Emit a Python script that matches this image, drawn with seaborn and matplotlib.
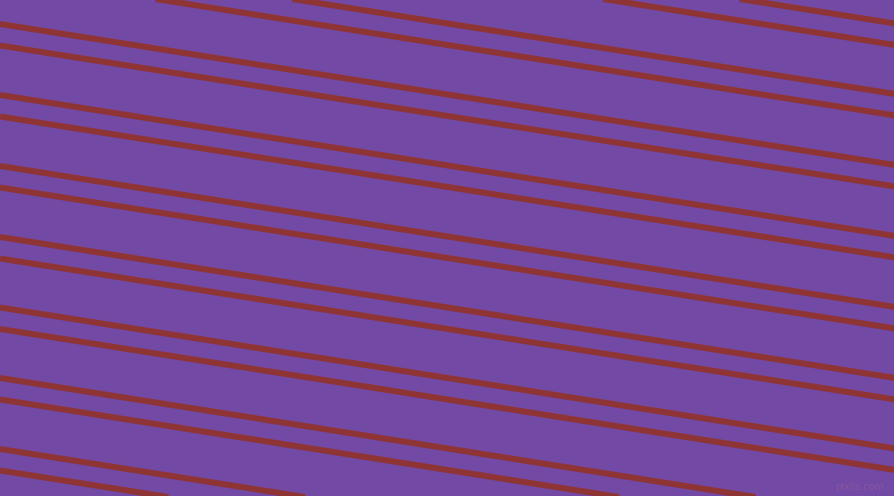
import pandas as pd
import matplotlib
matplotlib.use("Agg")
import matplotlib.pyplot as plt
import seaborn as sns

# y of each stripe at the left edge (x=0) and at the right edge (x=895)
left_y = [-117.5, -96, -47, -25.5, 24, 45.5, 95, 116.5, 166, 187.5,
          237, 258.5, 307.5, 329, 378, 399.5, 449, 470.5]
right_y = [23.5, 45, 94, 115.5, 165, 186.5, 236, 257.5, 307, 328.5,
           378, 399.5, 448.5, 470, 519, 540.5, 590, 611.5]
edge_x = [0, 895]

bg_color = "#7249A4"
stripe_color = "#8F3434"

rows = []
for i, (yl, yr) in enumerate(zip(left_y, right_y)):
    rows.append({"line": i, "x": edge_x[0], "y": yl})
    rows.append({"line": i, "x": edge_x[1], "y": yr})
df = pd.DataFrame(rows)

sns.set_theme(style="white")
fig, ax = plt.subplots(figsize=(8.95, 4.96), dpi=100)
fig.subplots_adjust(left=0, right=1, bottom=0, top=1)
fig.patch.set_facecolor(bg_color)

sns.lineplot(data=df, x="x", y="y", units="line", estimator=None,
             color=stripe_color, linewidth=4.3, legend=False, ax=ax,
             solid_capstyle="butt")

ax.set_xlim(0, 895)
ax.set_ylim(496, 0)
ax.set_axis_off()

# faint watermark
fig.text(0.988, 0.008, "pixlis.com", ha="right", va="bottom",
         fontsize=7, color="#8C5A9A", alpha=0.8)

fig.savefig("out.png", dpi=100, facecolor=bg_color)
